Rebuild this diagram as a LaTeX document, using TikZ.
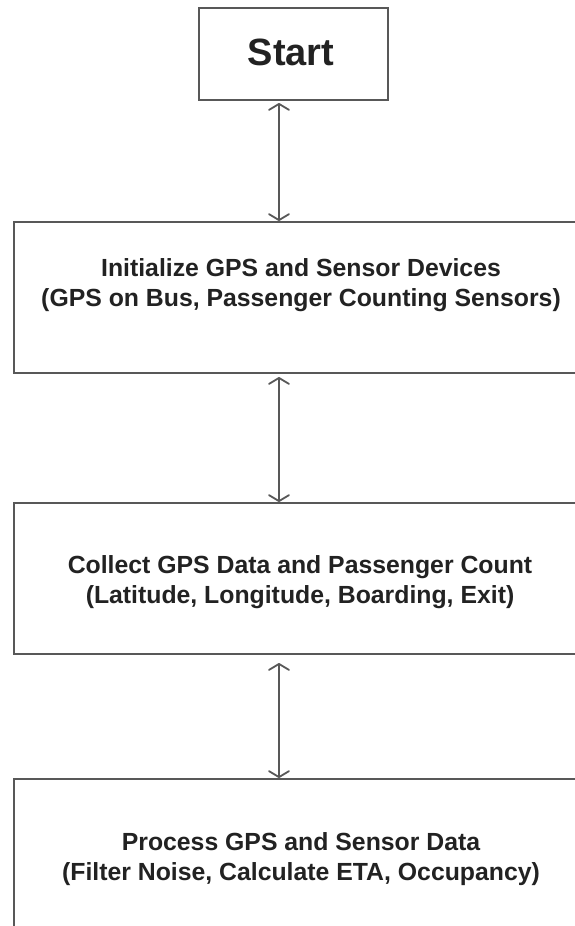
\documentclass[tikz,border=0pt]{standalone}
\usepackage{fontspec}
\setmainfont{Liberation Sans}
\usetikzlibrary{arrows.meta}
\definecolor{linegray}{HTML}{585858}
\definecolor{textgray}{HTML}{222222}
\tikzset{
  boxline/.style={draw=linegray, line width=2pt, fill=white},
  boxtext/.style={text=textgray, font=\fontsize{24.8}{30}\selectfont\bfseries, align=center, inner sep=0pt},
  link/.style={draw=linegray, line width=1.8pt, {Straight Barb[width=20pt,length=6pt,round]}-{Straight Barb[width=20pt,length=6pt,round]}}
}
\begin{document}
\begin{tikzpicture}[x=1pt,y=-1pt]
\useasboundingbox (0,0) rectangle (574,926);
\fill[white] (0,0) rectangle (574,926);
% boxes
\node[boxline, minimum width=189pt, minimum height=92pt, inner sep=0pt, anchor=north west] (start) at (198,7) {};
\node[text=textgray, font=\fontsize{38}{40}\selectfont\bfseries, inner sep=0pt] (starttext) at (291,52) {Start};
\node[boxline, minimum width=574pt, minimum height=151pt, inner sep=0pt, anchor=north west] (init) at (13,221) {};
\node[boxtext] (inittext) at (301,285) {Initialize GPS and Sensor Devices\\(GPS on Bus, Passenger Counting Sensors)};
\node[boxline, minimum width=574pt, minimum height=151pt, inner sep=0pt, anchor=north west] (collect) at (13,502) {};
\node[boxtext] (collecttext) at (300,582.5) {Collect GPS Data and Passenger Count\\(Latitude, Longitude, Boarding, Exit)};
\node[boxline, minimum width=574pt, minimum height=220pt, inner sep=0pt, anchor=north west] (process) at (13,778) {};
\node[boxtext] (processtext) at (301,859) {Process GPS and Sensor Data\\(Filter Noise, Calculate ETA, Occupancy)};
% connectors
\coordinate (a1) at (279,0);
\draw[link, shorten <=2pt] (start.south -| a1) -- (init.north -| a1);
\draw[link, shorten <=3pt] (init.south -| a1) -- (collect.north -| a1);
\draw[link, shorten <=8pt] (collect.south -| a1) -- (process.north -| a1);
\end{tikzpicture}
\end{document}
